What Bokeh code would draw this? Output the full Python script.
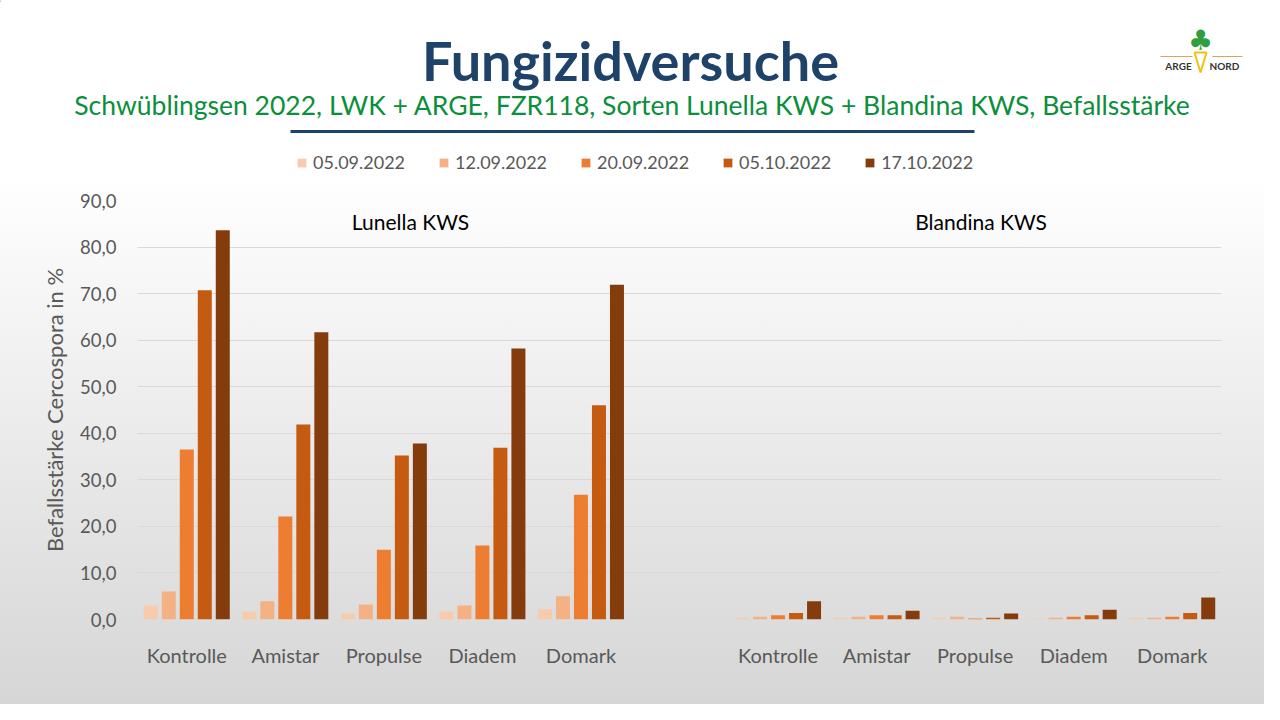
from bokeh.plotting import figure
from bokeh.layouts import column
from bokeh.models import (Range1d, FixedTicker, Label, Legend, LegendItem,
                          ColumnDataSource)
from bokeh.core.properties import value
from bokeh.embed import file_html
from bokeh.resources import INLINE

# ---------------- data ----------------
title_text = "Fungizidversuche"
subtitle_text = "Schwüblingsen 2022, LWK + ARGE, FZR118, Sorten Lunella KWS + Blandina KWS, Befallsstärke"
dates = ["05.09.2022", "12.09.2022", "20.09.2022", "05.10.2022", "17.10.2022"]
treatments = ["Kontrolle", "Amistar", "Propulse", "Diadem", "Domark"]
varieties = ["Lunella KWS", "Blandina KWS"]

lunella_0509 = [3.0, 1.7, 1.3, 1.7, 2.2]
lunella_1209 = [6.0, 3.9, 3.2, 3.0, 5.0]
lunella_2009 = [36.5, 22.1, 15.0, 15.9, 26.8]
lunella_0510 = [70.7, 41.9, 35.2, 36.9, 46.0]
lunella_1710 = [83.6, 61.7, 37.8, 58.2, 71.9]

blandina_0509 = [0.4, 0.4, 0.4, 0.2, 0.4]
blandina_1209 = [0.6, 0.6, 0.6, 0.4, 0.4]
blandina_2009 = [0.9, 0.9, 0.2, 0.6, 0.6]
blandina_0510 = [1.4, 0.9, 0.4, 0.9, 1.4]
blandina_1710 = [3.9, 1.9, 1.3, 2.1, 4.7]

ytick_values = [0, 10, 20, 30, 40, 50, 60, 70, 80, 90]
ytick_labels = ["0,0", "10,0", "20,0", "30,0", "40,0", "50,0", "60,0", "70,0", "80,0", "90,0"]

colors = ["#f8cbad", "#f4b183", "#ed7d31", "#c55a11", "#843c0c"]

lunella = [lunella_0509, lunella_1209, lunella_2009, lunella_0510, lunella_1710]
blandina = [blandina_0509, blandina_1209, blandina_2009, blandina_0510, blandina_1710]

FONT = "Lato"
W = 1264
HEAD_H = 188
MAIN_H = 516

# ---------------- header (title, subtitle, rule, legend, logo) ----------------
hp = figure(width=W, height=HEAD_H, output_backend="svg", toolbar_location=None,
            x_range=Range1d(0, W), y_range=Range1d(HEAD_H, 0),
            x_axis_type=None, y_axis_type=None, min_border=0)
if hasattr(hp, "frame_align"):
    hp.frame_align = False
hp.grid.visible = False
hp.outline_line_color = None
hp.background_fill_alpha = 0
hp.border_fill_alpha = 0

hp.text(x=[630], y=[60], text=[title_text], text_align="center", text_baseline="middle",
        text_font=value(FONT), text_font_style="bold", text_font_size="54px",
        text_color="#1f4368")
hp.text(x=[632], y=[104], text=[subtitle_text], text_align="center", text_baseline="middle",
        text_font=value(FONT), text_font_size="26.5px", text_color="#0a8f3c")
hp.segment(x0=[290], y0=[131], x1=[974], y1=[131], line_color="#1f4368", line_width=3)

# logo (approximation)
hp.text(x=[1178, 1224], y=[65, 65], text=["ARGE", "NORD"], text_align="center",
        text_baseline="middle", text_font=value(FONT), text_font_style="bold",
        text_font_size="10px", text_color="#333333")
hp.segment(x0=[1160, 1212], y0=[56, 56], x1=[1192, 1242], y1=[56, 56],
           line_color="#e0a060", line_width=1)
hp.patch(x=[1194, 1206, 1200], y=[52, 52, 72], fill_color=None,
         line_color="#f2c018", line_width=2)
hp.text(x=[1200], y=[40], text=["\u2663"], text_align="center", text_baseline="middle",
        text_font=value("DejaVu Sans"), text_font_size="28px", text_color="#2e9e3e")

leg_r = []
for c in colors:
    leg_r.append(hp.vbar(x=[-500], top=[1], width=1, fill_color=c, line_color=None))
legend = Legend(items=[LegendItem(label=d, renderers=[r]) for d, r in zip(dates, leg_r)],
                orientation="horizontal", location=(296, HEAD_H - 163 - 10))
legend.label_text_font = FONT
legend.label_text_font_size = "18px"
legend.label_text_color = "#595959"
legend.glyph_width = 11
legend.glyph_height = 11
legend.label_standoff = 6
legend.spacing = 33
legend.padding = 0
legend.margin = 0
legend.label_height = 20
legend.background_fill_alpha = 0
legend.border_line_color = None
hp.add_layout(legend, "center")

# ---------------- main chart ----------------
n_slots = len(treatments) * 2 + 1
centers_l = [i + 0.5 for i in range(len(treatments))]
centers_b = [i + len(treatments) + 1.5 for i in range(len(treatments))]

p = figure(width=W, height=MAIN_H, output_backend="svg", toolbar_location=None,
           x_range=Range1d(0, n_slots), y_range=Range1d(0, 90),
           min_border_left=137, min_border_right=43,
           min_border_top=12, min_border_bottom=85)
if hasattr(p, "frame_align"):
    p.frame_align = False
p.background_fill_alpha = 0
p.border_fill_alpha = 0
p.outline_line_color = None

step = 0.1827
width = 0.142
for k in range(len(dates)):
    off = (k - 2) * step
    xs = [c + off for c in centers_l] + [c + off for c in centers_b]
    tops = lunella[k] + blandina[k]
    src = ColumnDataSource(dict(x=xs, top=tops))
    p.vbar(x="x", top="top", width=width, source=src,
           fill_color=colors[k], line_color=None)

p.xaxis.ticker = FixedTicker(ticks=centers_l + centers_b)
p.xaxis.major_label_overrides = {c: t for c, t in zip(centers_l + centers_b, treatments + treatments)}
p.xaxis.axis_line_color = None
p.xaxis.major_tick_line_color = None
p.xaxis.minor_tick_line_color = None
p.xaxis.major_label_text_font = FONT
p.xaxis.major_label_text_font_size = "20px"
p.xaxis.major_label_text_color = "#595959"
p.xaxis.major_label_standoff = 17

p.yaxis.ticker = FixedTicker(ticks=ytick_values)
p.yaxis.major_label_overrides = dict(zip(ytick_values, ytick_labels))
p.yaxis.axis_line_color = None
p.yaxis.major_tick_line_color = None
p.yaxis.minor_tick_line_color = None
p.yaxis.major_label_text_font = FONT
p.yaxis.major_label_text_font_size = "18.5px"
p.yaxis.major_label_text_color = "#595959"
p.yaxis.major_label_standoff = 15
p.yaxis.axis_label = "Befallsstärke Cercospora in %"
p.yaxis.axis_label_text_font = FONT
p.yaxis.axis_label_text_font_size = "22px"
p.yaxis.axis_label_text_font_style = "normal"
p.yaxis.axis_label_text_color = "#595959"
p.yaxis.axis_label_standoff = 9

p.xgrid.grid_line_color = None
p.ygrid.grid_line_color = "#d9d9d9"
p.ygrid.grid_line_width = 1

p.add_layout(Label(x=2.77, y=85.5, text=varieties[0], text_align="center",
                   text_baseline="middle", text_font=FONT,
                   text_font_size="21px", text_color="#000000"))
p.add_layout(Label(x=8.56, y=85.5, text=varieties[1], text_align="center",
                   text_baseline="middle", text_font=FONT,
                   text_font_size="21px", text_color="#000000"))

layout = column(hp, p, spacing=0)
layout.styles = {"background-image": "linear-gradient(to bottom, #ffffff 0%, #ffffff 25%, #d6d6d6 100%)"}

open("out.html", "w").write(file_html(layout, INLINE))
